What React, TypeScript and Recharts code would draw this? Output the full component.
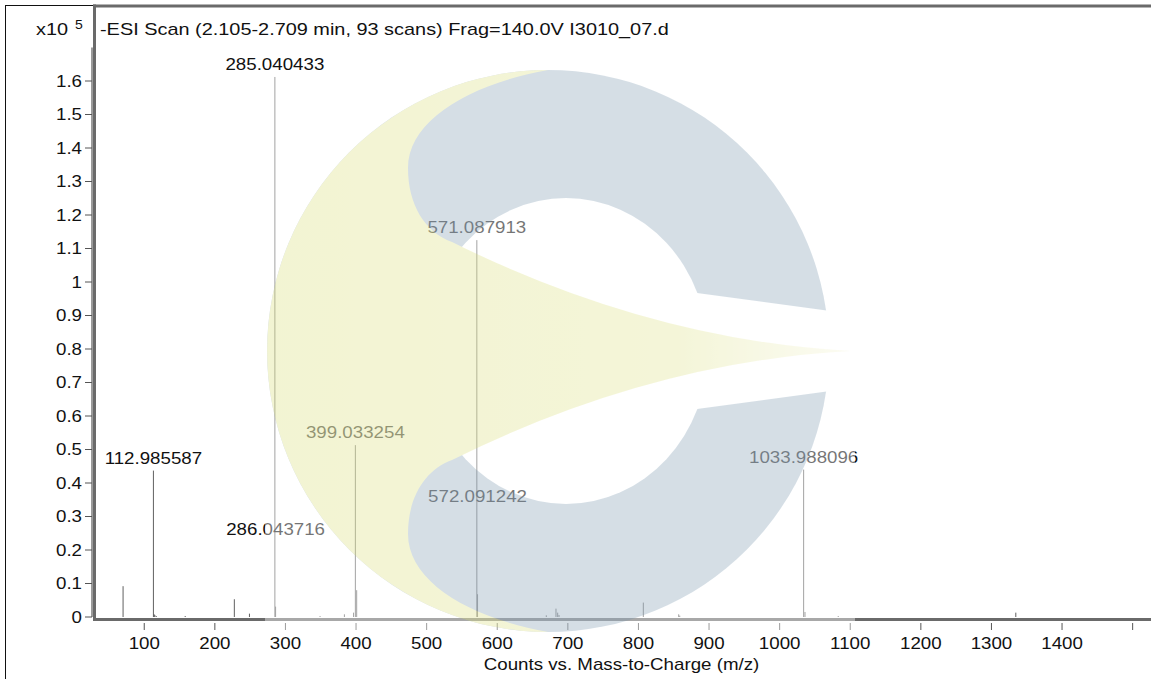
import React from "react";
import { ScatterChart, Scatter, XAxis, YAxis, ErrorBar } from "recharts";

// peak list (m/z, counts x10^5)
const peakMz = [
  70.0, 112.985587, 113.99, 115.0, 117.0, 158.0, 227.6, 249.0, 285.040433, 286.043716,
  349.0, 383.5, 396.5, 399.033254, 400.9, 571.087913, 572.091242, 669.5, 683.2, 685.6,
  687.5, 806.9, 857.0, 858.5, 1033.988096, 1035.9, 1083.0, 1334.5,
];
const peakCounts = [
  0.092, 0.437, 0.008, 0.006, 0.003, 0.003, 0.053, 0.01, 1.612, 0.031,
  0.003, 0.008, 0.013, 0.513, 0.08, 1.125, 0.068, 0.005, 0.025, 0.013,
  0.006, 0.043, 0.008, 0.004, 0.44, 0.015, 0.003, 0.013,
];

// annotations: where the m/z text sits (counts units)
const labelMz = [112.985587, 285.040433, 286.043716, 399.033254, 571.087913, 572.091242, 1033.988096];
const labelText = ["112.985587", "285.040433", "286.043716", "399.033254", "571.087913", "572.091242", "1033.988096"];
const labelAt = [0.437, 1.612, 0.224, 0.513, 1.125, 0.322, 0.44];

const xTicks = [100, 200, 300, 400, 500, 600, 700, 800, 900, 1000, 1100, 1200, 1300, 1400, 1500];
const xTickLabels = ["100", "200", "300", "400", "500", "600", "700", "800", "900", "1000", "1100", "1200", "1300", "1400", ""];
const yTicks = [0, 0.1, 0.2, 0.3, 0.4, 0.5, 0.6, 0.7, 0.8, 0.9, 1, 1.1, 1.2, 1.3, 1.4, 1.5, 1.6];
const yTickLabels = ["0", "0.1", "0.2", "0.3", "0.4", "0.5", "0.6", "0.7", "0.8", "0.9", "1", "1.1", "1.2", "1.3", "1.4", "1.5", "1.6"];

const peaks = peakMz.map((mz, k) => ({ mz, i: peakCounts[k], err: [peakCounts[k], 0] }));
const labels = labelMz.map((mz, k) => ({ mz, i: labelAt[k], text: labelText[k] }));

const FONT = "'Liberation Sans', Arial, Helvetica, sans-serif";
const SX = 1.17; // the screenshot is stretched sideways

function Txt({ x, y, anchor = "start", size = 16, fill = "#111", children }: any) {
  return (
    <text
      transform={`translate(${x} ${y}) scale(${SX} 1)`}
      textAnchor={anchor}
      fontSize={size}
      fontFamily={FONT}
      fill={fill}
    >
      {children}
    </text>
  );
}

const XTick = (props: any) => {
  const { x, y, payload } = props;
  const label = xTickLabels[xTicks.indexOf(payload.value)];
  return (
    <g>
      <line x1={x} x2={x} y1={y + 6} y2={y + 13} stroke="#555" />
      {label ? (
        <Txt x={x} y={y + 31.5} anchor="middle">
          {label}
        </Txt>
      ) : null}
    </g>
  );
};

const YTick = (props: any) => {
  const { x, y, payload } = props;
  const label = yTickLabels[yTicks.indexOf(payload.value)];
  return (
    <g>
      <line x1={x - 7} x2={x} y1={y} y2={y} stroke="#555" />
      <Txt x={x - 10} y={y + 5.5} anchor="end">
        {label}
      </Txt>
    </g>
  );
};

const PeakLabel = (p: any) => (
  <Txt x={p.cx} y={p.cy - 7} anchor="middle">
    {p.payload.text}
  </Txt>
);

function Watermark() {
  return (
    <g opacity={0.3}>
      <defs>
        <mask id="hole">
          <rect x={0} y={0} width={1151} height={679} fill="#fff" />
          <ellipse cx={566} cy={351} rx={142} ry={153} fill="#000" />
          <polygon points="640,285 697,293 845,313 845,389 697,409 640,417" fill="#000" />
        </mask>
        <linearGradient id="yel" gradientUnits="userSpaceOnUse" x1={265} y1={0} x2={851} y2={0}>
          <stop offset="0" stopColor="rgb(215,220,110)" />
          <stop offset="0.7" stopColor="rgb(220,224,128)" />
          <stop offset="1" stopColor="rgb(245,245,215)" />
        </linearGradient>
      </defs>
      <circle cx={548} cy={351} r={281} fill="rgb(118,148,172)" mask="url(#hole)" />
      <path
        d="M548,70 C470,84 408,120 408,168 C408,205 425,232 452,242 Q650,340 851,351 Q650,362 452,460 C425,470 408,497 408,534 C408,582 470,618 548,632 A281,281 0 0 1 548,70 Z"
        fill="url(#yel)"
      />
    </g>
  );
}

export default function App() {
  return (
    <div style={{ position: "absolute", left: 0, top: 0, width: 1151, height: 679, background: "#fff" }}>
      <ScatterChart width={1151} height={679} margin={{ top: 47.5, right: 0, bottom: 22, left: 0 }}>
        <XAxis
          dataKey="mz"
          type="number"
          domain={[26, 1526]}
          allowDataOverflow
          ticks={xTicks}
          interval={0}
          height={40}
          axisLine={false}
          tickLine={false}
          tickSize={0}
          tickMargin={0}
          tick={<XTick />}
          label={{
            content: (p: any) => (
              <Txt x={p.viewBox.x + p.viewBox.width / 2} y={p.viewBox.y + 52.5} anchor="middle">
                Counts vs. Mass-to-Charge (m/z)
              </Txt>
            ),
          }}
        />
        <YAxis
          dataKey="i"
          type="number"
          domain={[0, 1.7]}
          allowDataOverflow
          ticks={yTicks}
          interval={0}
          width={92}
          axisLine={{ stroke: "#9a9a9a", strokeWidth: 2 }}
          tickLine={false}
          tickSize={0}
          tickMargin={0}
          tick={<YTick />}
        />
        <Scatter data={peaks} dataKey="i" isAnimationActive={false} shape={() => <g />}>
          <ErrorBar dataKey="err" direction="y" width={0} stroke="#606060" strokeWidth={1} isAnimationActive={false} />
        </Scatter>
        <Scatter data={labels} dataKey="i" isAnimationActive={false} shape={PeakLabel} />
      </ScatterChart>
      <svg width={1151} height={679} style={{ position: "absolute", left: 0, top: 0, pointerEvents: "none" }}>
        {/* outer window frame */}
        <line x1={5.5} x2={5.5} y1={5} y2={679} stroke="#111" />
        <line x1={5} x2={94} y1={5.5} y2={5.5} stroke="#111" />
        {/* plot frame */}
        <line x1={93} x2={1151} y1={6} y2={6} stroke="#6a6a6a" strokeWidth={3} />
        <line x1={94.5} x2={94.5} y1={4.5} y2={621} stroke="#6a6a6a" strokeWidth={3} />
        <line x1={93} x2={1151} y1={619.5} y2={619.5} stroke="#6a6a6a" strokeWidth={3} />
        <Txt x={36} y={34.5} size={17}>x10</Txt>
        <Txt x={75} y={29} size={12}>5</Txt>
        <Txt x={100} y={34.5} size={17}>-ESI Scan (2.105-2.709 min, 93 scans) Frag=140.0V I3010_07.d</Txt>
        {/* faded logo sits on top of the plot */}
        <rect x={265} y={70} width={590} height={562} fill="#fff" opacity={0.42} />
        <Watermark />
      </svg>
    </div>
  );
}
